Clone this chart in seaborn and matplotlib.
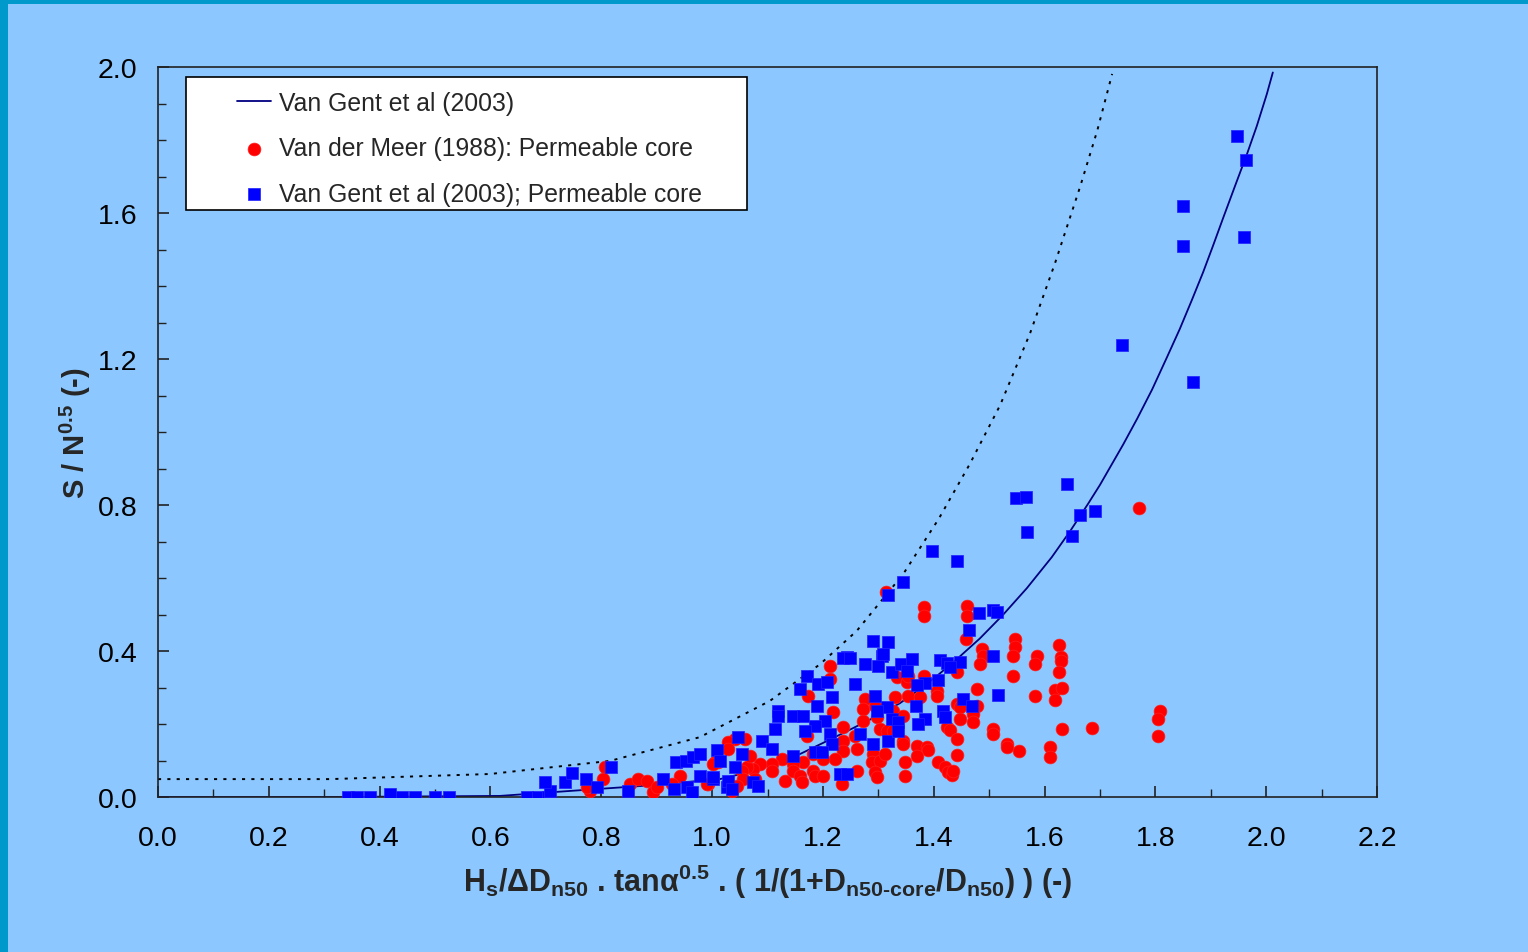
import matplotlib
matplotlib.use("Agg")
import matplotlib.pyplot as plt
import seaborn as sns
import numpy as np
import pandas as pd
from matplotlib.patches import Rectangle

# ---------------- data ----------------
x_ticks = [0.0, 0.2, 0.4, 0.6, 0.8, 1.0, 1.2, 1.4, 1.6, 1.8, 2.0, 2.2]
y_ticks = [0.0, 0.4, 0.8, 1.2, 1.6, 2.0]
x_tick_labels = ["0.0", "0.2", "0.4", "0.6", "0.8", "1.0", "1.2", "1.4", "1.6", "1.8", "2.0", "2.2"]
y_tick_labels = ["0.0", "0.4", "0.8", "1.2", "1.6", "2.0"]

# Van Gent et al (2003) curve (solid)
curve_x = [0.0, 0.31, 0.617, 0.738, 0.870, 1.014, 1.068, 1.123, 1.159, 1.200, 1.243, 1.290,
           1.339, 1.370, 1.406, 1.442, 1.483, 1.525, 1.568, 1.613, 1.646, 1.678, 1.700, 1.742,
           1.767, 1.794, 1.821, 1.844, 1.866, 1.886, 1.904, 1.922, 1.944, 1.965, 1.983, 2.001,
           2.012]
curve_y = [0.0, 0.0, 0.003, 0.016, 0.030, 0.049, 0.069, 0.097, 0.118, 0.148, 0.180, 0.216,
           0.257, 0.290, 0.332, 0.378, 0.434, 0.499, 0.572, 0.657, 0.728, 0.802, 0.855, 0.966,
           1.036, 1.116, 1.205, 1.282, 1.362, 1.437, 1.510, 1.585, 1.675, 1.760, 1.838, 1.925,
           1.985]

# dotted upper bound
dotted_x = [0.0, 0.31, 0.599, 0.816, 0.978, 1.104, 1.195, 1.261, 1.345, 1.409, 1.465,
            1.520, 1.574, 1.619, 1.664, 1.695, 1.722]
dotted_y = [0.049, 0.049, 0.063, 0.099, 0.164, 0.263, 0.364, 0.455, 0.611, 0.762, 0.912,
            1.074, 1.271, 1.463, 1.671, 1.825, 1.981]

# Van der Meer (1988): permeable core (red circles)
vdm_x = [0.807, 0.803, 0.780, 0.774, 0.852, 0.866, 0.883, 0.893, 0.901, 0.942, 0.928, 0.993,
         1.005, 1.213, 1.213, 1.173, 1.218, 1.276, 1.272, 1.272, 1.298, 1.330, 1.334, 1.303,
         1.316, 1.236, 1.258, 1.171, 1.236, 1.236, 1.261, 1.290, 1.289, 1.303, 1.222, 1.200,
         1.182, 1.164, 1.146, 1.126, 1.108, 1.108, 1.086, 1.074, 1.063, 1.068, 1.041, 1.029,
         1.059, 1.029, 1.011, 1.002, 1.054, 1.056, 1.077, 1.045, 1.036, 0.991, 1.132, 1.146,
         1.159, 1.162, 1.182, 1.186, 1.200, 1.234, 1.261, 1.294, 1.298, 1.294, 1.314, 1.382,
         1.382, 1.460, 1.460, 1.458, 1.547, 1.547, 1.487, 1.489, 1.483, 1.543, 1.586, 1.583,
         1.543, 1.478, 1.583, 1.352, 1.354, 1.382, 1.406, 1.406, 1.442, 1.354, 1.375, 1.326,
         1.345, 1.442, 1.447, 1.478, 1.626, 1.630, 1.630, 1.626, 1.619, 1.631, 1.619, 1.471,
         1.471, 1.447, 1.424, 1.429, 1.507, 1.507, 1.631, 1.442, 1.532, 1.532, 1.554, 1.610,
         1.610, 1.370, 1.388, 1.390, 1.370, 1.348, 1.345, 1.345, 1.326, 1.442, 1.408, 1.420,
         1.426, 1.433, 1.435, 1.348, 1.312, 1.770, 1.808, 1.805, 1.805, 1.686]
vdm_y = [0.082, 0.049, 0.016, 0.027, 0.036, 0.049, 0.044, 0.014, 0.027, 0.058, 0.036, 0.036,
         0.096, 0.359, 0.323, 0.277, 0.233, 0.268, 0.241, 0.208, 0.219, 0.274, 0.329, 0.186,
         0.181, 0.192, 0.167, 0.167, 0.153, 0.126, 0.132, 0.118, 0.096, 0.099, 0.104, 0.104,
         0.118, 0.096, 0.090, 0.104, 0.090, 0.071, 0.090, 0.077, 0.082, 0.112, 0.159, 0.151,
         0.159, 0.132, 0.096, 0.090, 0.071, 0.049, 0.049, 0.030, 0.016, 0.036, 0.044, 0.071,
         0.058, 0.041, 0.071, 0.058, 0.058, 0.036, 0.071, 0.068, 0.055, 0.249, 0.562, 0.521,
         0.496, 0.523, 0.496, 0.433, 0.433, 0.411, 0.405, 0.386, 0.364, 0.386, 0.386, 0.364,
         0.332, 0.296, 0.277, 0.315, 0.332, 0.332, 0.290, 0.277, 0.342, 0.277, 0.274, 0.236,
         0.222, 0.255, 0.247, 0.249, 0.416, 0.384, 0.373, 0.342, 0.293, 0.299, 0.266, 0.227,
         0.205, 0.214, 0.192, 0.184, 0.186, 0.173, 0.186, 0.159, 0.145, 0.137, 0.126, 0.137,
         0.110, 0.140, 0.137, 0.129, 0.112, 0.096, 0.153, 0.145, 0.181, 0.115, 0.096, 0.082,
         0.068, 0.060, 0.071, 0.058, 0.118, 0.792, 0.236, 0.214, 0.167, 0.189]

# Van Gent et al (2003): permeable core (blue squares)
vg_x = [0.343, 0.359, 0.383, 0.419, 0.440, 0.464, 0.500, 0.525, 0.666, 0.686, 0.704, 0.707,
        0.698, 0.735, 0.747, 0.772, 0.792, 0.818, 0.848, 0.911, 0.931, 0.935, 0.953, 0.966,
        0.978, 0.955, 0.978, 0.964, 1.002, 1.009, 1.014, 1.027, 1.290, 1.317, 1.243, 1.276,
        1.307, 1.299, 1.325, 1.171, 1.159, 1.191, 1.207, 1.258, 1.216, 1.189, 1.294, 1.119,
        1.119, 1.146, 1.164, 1.204, 1.186, 1.168, 1.213, 1.316, 1.298, 1.325, 1.114, 1.090,
        1.108, 1.216, 1.186, 1.198, 1.267, 1.290, 1.317, 1.047, 1.054, 1.041, 1.146, 1.231,
        1.243, 1.074, 1.083, 1.029, 1.036, 1.002, 1.568, 1.397, 1.442, 1.345, 1.317, 1.482,
        1.507, 1.514, 1.464, 1.308, 1.236, 1.249, 1.341, 1.361, 1.352, 1.411, 1.424, 1.447,
        1.429, 1.507, 1.408, 1.384, 1.370, 1.516, 1.453, 1.469, 1.368, 1.417, 1.420, 1.336,
        1.384, 1.372, 1.336, 1.640, 1.664, 1.691, 1.650, 1.548, 1.566, 1.947, 1.964, 1.850,
        1.850, 1.960, 1.740, 1.868]
vg_y = [0.0, 0.0, 0.0, 0.008, 0.0, 0.0, 0.0, 0.0, 0.0, 0.0, 0.0, 0.016,
        0.041, 0.041, 0.066, 0.049, 0.027, 0.082, 0.016, 0.049, 0.022, 0.096, 0.099, 0.110,
        0.118, 0.027, 0.058, 0.014, 0.049, 0.129, 0.099, 0.027, 0.427, 0.425, 0.384, 0.364,
        0.386, 0.359, 0.342, 0.332, 0.296, 0.310, 0.315, 0.310, 0.274, 0.249, 0.277, 0.236,
        0.222, 0.222, 0.222, 0.208, 0.195, 0.181, 0.173, 0.247, 0.236, 0.214, 0.186, 0.153,
        0.132, 0.145, 0.123, 0.123, 0.173, 0.145, 0.153, 0.164, 0.118, 0.082, 0.112, 0.063,
        0.063, 0.041, 0.030, 0.044, 0.022, 0.055, 0.726, 0.674, 0.647, 0.589, 0.553, 0.504,
        0.512, 0.507, 0.458, 0.392, 0.381, 0.381, 0.364, 0.378, 0.345, 0.375, 0.367, 0.370,
        0.356, 0.386, 0.321, 0.312, 0.307, 0.279, 0.268, 0.249, 0.249, 0.236, 0.219, 0.205,
        0.214, 0.200, 0.181, 0.858, 0.773, 0.784, 0.715, 0.819, 0.822, 1.811, 1.745, 1.619,
        1.510, 1.534, 1.238, 1.137]

labels = ["Van Gent et al (2003)",
          "Van der Meer (1988): Permeable core",
          "Van Gent et al (2003); Permeable core"]

# ---------------- style ----------------
BG = "#8CC8FF"
sns.set_style("ticks")
plt.rcParams["font.family"] = ["Liberation Sans", "DejaVu Sans"]
plt.rcParams["mathtext.fontset"] = "custom"
plt.rcParams["mathtext.rm"] = "Liberation Sans:bold"
plt.rcParams["mathtext.it"] = "Liberation Sans:bold"
plt.rcParams["mathtext.bf"] = "Liberation Sans:bold"
plt.rcParams["mathtext.default"] = "rm"

fig = plt.figure(figsize=(15.28, 9.53), dpi=100, facecolor=BG)
ax = fig.add_axes([158 / 1528, 1 - 798 / 953, 1219 / 1528, 730 / 953])
ax.set_facecolor(BG)

# decorative frame strips (top and left)
fig.patches.append(Rectangle((0, 1 - 5 / 953), 1, 5 / 953, transform=fig.transFigure,
                             facecolor="#0099CC", edgecolor="none", zorder=0))
fig.patches.append(Rectangle((0, 0), 8 / 1528, 1, transform=fig.transFigure,
                             facecolor="#0099CC", edgecolor="none", zorder=0))

curve_df = pd.DataFrame({"x": curve_x, "y": curve_y})
dotted_df = pd.DataFrame({"x": dotted_x, "y": dotted_y})
vdm_df = pd.DataFrame({"x": vdm_x, "y": vdm_y})
vg_df = pd.DataFrame({"x": vg_x, "y": vg_y})

sns.lineplot(data=curve_df, x="x", y="y", ax=ax, color="#000080", linewidth=1.3,
             estimator=None, sort=False, label=labels[0], zorder=2)
sns.lineplot(data=dotted_df, x="x", y="y", ax=ax, color="black", linewidth=1.4,
             linestyle=(0, (1.6, 3.2)), estimator=None, sort=False, zorder=2)
sns.scatterplot(data=vdm_df, x="x", y="y", ax=ax, color="#FF0000", marker="o", s=85,
                edgecolor="#FF2020", linewidth=0.5, label=labels[1], zorder=3)
sns.scatterplot(data=vg_df, x="x", y="y", ax=ax, color="#0000FF", marker="s", s=72,
                edgecolor="#2020FF", linewidth=0.5, label=labels[2], zorder=4)

ax.set_xlim(0, 2.2)
ax.set_ylim(0, 2.0)
ax.set_xticks(x_ticks)
ax.set_xticklabels(x_tick_labels)
ax.set_yticks(y_ticks)
ax.set_yticklabels(y_tick_labels)
ax.set_xticks(np.arange(0.1, 2.2, 0.2), minor=True)
ax.set_yticks(np.arange(0.1, 2.0, 0.1), minor=True)
ax.tick_params(axis="both", which="major", direction="in", length=8, width=1.2,
               color="#222222", labelsize=20.5, labelcolor="black")
ax.tick_params(axis="x", which="major", pad=20.5)
ax.tick_params(axis="y", which="major", pad=15)
ax.tick_params(axis="both", which="minor", direction="in", length=6, width=1.0, color="#222222")
for sp in ax.spines.values():
    sp.set_visible(True)
    sp.set_color("#222222")
    sp.set_linewidth(1.2)

ax.set_xlabel(r"$H_s/ΔD_{n50}\text{ . tan}α^{0.5}\text{ . ( 1/(1+}D_{n50\text{-core}}\text{/}D_{n50}\text{) ) (-)}$",
              fontsize=22, fontweight="bold", labelpad=7.5)
ax.set_ylabel(r"$S\text{ / }N^{0.5}\text{ (-)}$", fontsize=21, fontweight="bold", labelpad=3)

# legend
handles, labs = ax.get_legend_handles_labels()
order = [labs.index(l) for l in labels]
leg = ax.legend([handles[i] for i in order], [labs[i] for i in order],
                loc="upper left", bbox_to_anchor=((237 - 158) / 1219, (798 - 92) / 730),
                borderpad=0, borderaxespad=0, frameon=False, fontsize=17.8,
                handlelength=1.38, handletextpad=0.3, labelspacing=0.86)
leg.set_zorder(7)
ax.add_patch(Rectangle(((186 - 158) / 1219, (798 - 211) / 730), 561 / 1219, 133 / 730,
                       transform=ax.transAxes, facecolor="white", edgecolor="black",
                       linewidth=1.2, zorder=6))

fig.savefig("out.png", dpi=100, facecolor=BG)
